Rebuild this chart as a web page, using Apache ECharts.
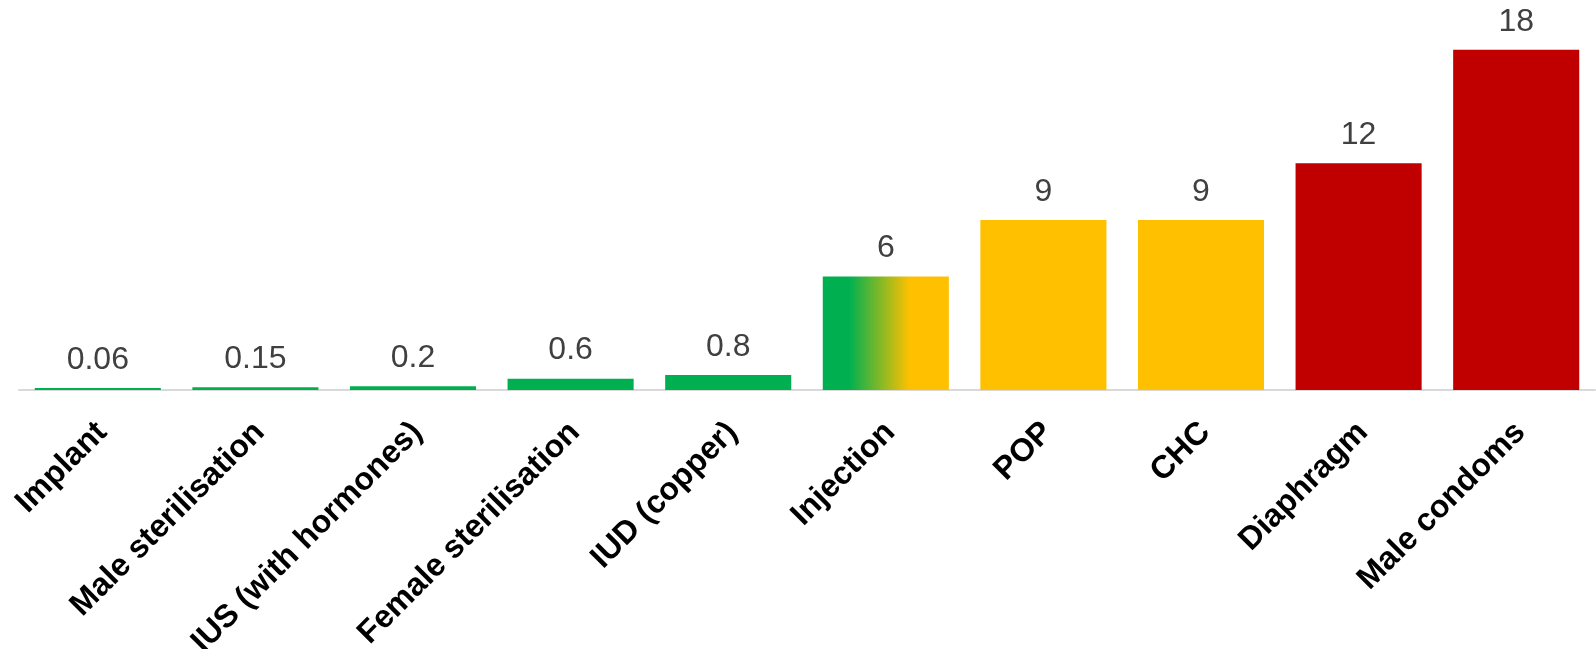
<!DOCTYPE html>
<html>
<head>
<meta charset="utf-8">
<script src="https://cdn.jsdelivr.net/npm/echarts@6/dist/echarts.min.js"></script>
<style>
html,body{margin:0;padding:0;background:#fff;}
#chart{width:1596px;height:649px;}
</style>
</head>
<body>
<div id="chart"></div>
<script>
const categories = ['Implant','Male sterilisation','IUS (with hormones)','Female sterilisation','IUD (copper)','Injection','POP','CHC','Diaphragm','Male condoms'];
const values = [0.06, 0.15, 0.2, 0.6, 0.8, 6, 9, 9, 12, 18];
const riskGroups = ['low','low','low','low','low','lowmid','mid','mid','high','high'];

const GREEN = '#00B050', YELLOW = '#FFC000', RED = '#C00000';
const groupColor = {
  low: GREEN,
  mid: YELLOW,
  high: RED,
  lowmid: new echarts.graphic.LinearGradient(0, 0, 1, 0, [
    {offset: 0, color: GREEN},
    {offset: 0.21, color: GREEN},
    {offset: 0.69, color: YELLOW},
    {offset: 1, color: YELLOW}
  ])
};

const chart = echarts.init(document.getElementById('chart'));
chart.setOption({
  animation: false,
  grid: {left: 19, right: 1, top: 12, bottom: 259, containLabel: false, outerBoundsMode: 'none'},
  xAxis: {
    type: 'category',
    data: categories,
    axisLine: {lineStyle: {color: '#D9D9D9', width: 2}},
    axisTick: {show: false},
    axisLabel: {
      rotate: 45,
      interval: 0,
      margin: 19,
      align: 'right',
      verticalAlign: 'top',
      padding: [0, 10, 0, 0],
      color: '#000',
      fontWeight: 'bold',
      fontSize: 32,
      fontFamily: 'Liberation Sans, Arial, sans-serif'
    }
  },
  yAxis: {
    type: 'value',
    min: 0,
    max: 20,
    show: false,
    splitLine: {show: false}
  },
  series: [{
    type: 'bar',
    barCategoryGap: '20%',
    barMinHeight: 2,
    data: values.map((v, i) => ({value: v, itemStyle: {color: groupColor[riskGroups[i]]}})),
    label: {
      show: true,
      position: 'top',
      distance: 12,
      color: '#404040',
      fontSize: 32,
      fontFamily: 'Liberation Sans, Arial, sans-serif'
    }
  }]
});
</script>
</body>
</html>
